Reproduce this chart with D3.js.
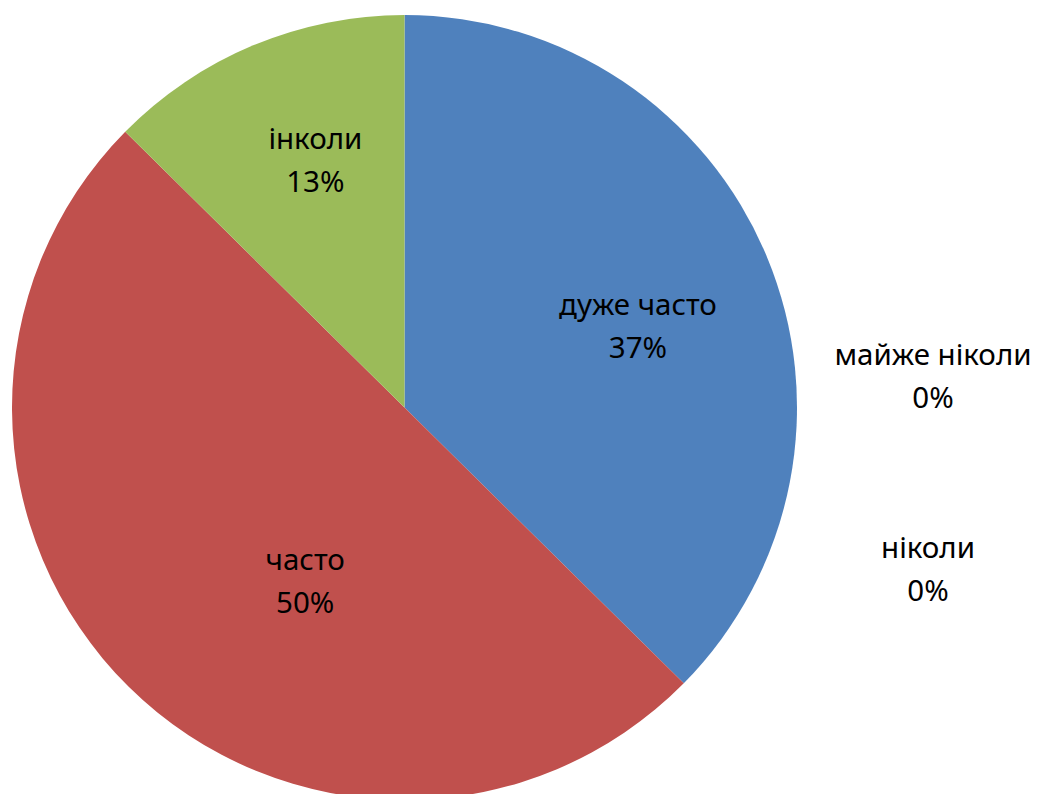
<!doctype html>
<html>
<head>
<meta charset="UTF-8">
<title>Pie</title>
<script src="https://d3js.org/d3.v7.min.js"></script>
<style>
  body { margin: 0; background: #ffffff; }
</style>
</head>
<body>
<script>

// -------------------------------------- data

var categories = ["дуже часто", "майже ніколи", "ніколи", "часто", "інколи"];
var values = [37.4, 0, 0, 50, 12.6];
var colors = ["#4f81bd", "#8064a2", "#4bacc6", "#c0504d", "#9bbb59"];

// -------------------------------------- settings

var width = 1038, height = 794;
var cx = 404.5, cy = 407.5, radius = 392.5;
var font = "'Noto Sans', 'Open Sans', sans-serif";
var fontSize = 29.5;
var lineGap = 43;

// label nudges (polar, relative to pie centre) for the drawn slices
var labelR = { 0: 0.63, 3: 0.51, 4: 0.67 };
var labelA = { 0: 0.06, 3: -0.26, 4: 0.05 };

var svg = d3.select("body").append("svg")
  .attr("width", width)
  .attr("height", height)
  .style("display", "block");

var g = svg.append("g").attr("transform", "translate(" + cx + "," + cy + ")");

var data = categories.map(function(c, i) { return { name: c, value: values[i], color: colors[i] }; });

var pie = d3.pie().sort(null).value(function(d) { return d.value; });
var arcs = pie(data);

var arc = d3.arc().innerRadius(0).outerRadius(radius);

g.selectAll("path.slice")
  .data(arcs.filter(function(d) { return d.data.value > 0; }))
  .enter().append("path")
  .attr("class", "slice")
  .attr("d", arc)
  .style("fill", function(d) { return d.data.color; });

// -------------------------------------- labels

var total = d3.sum(values);
function pct(v) { return Math.round(v / total * 100) + "%"; }

var zeroIndex = 0;
arcs.forEach(function(d, i) {
  var x, y;
  if (d.data.value > 0) {
    var a = (d.startAngle + d.endAngle) / 2 + labelA[i];
    var r = radius * labelR[i];
    x = Math.sin(a) * r;
    y = -Math.cos(a) * r;
  } else {
    // zero slices: labels stacked outside to the right
    x = radius + 136 - zeroIndex * 5;
    y = -31 + zeroIndex * 193;
    zeroIndex++;
  }
  var t = g.append("text")
    .attr("text-anchor", "middle")
    .style("font-family", font)
    .style("font-size", fontSize + "px")
    .style("fill", "#000000");
  t.append("tspan").attr("x", x).attr("y", y - lineGap / 2).attr("dy", "0.35em").text(d.data.name);
  t.append("tspan").attr("x", x).attr("y", y + lineGap / 2).attr("dy", "0.35em").text(pct(d.data.value));
});

</script>
</body>
</html>
